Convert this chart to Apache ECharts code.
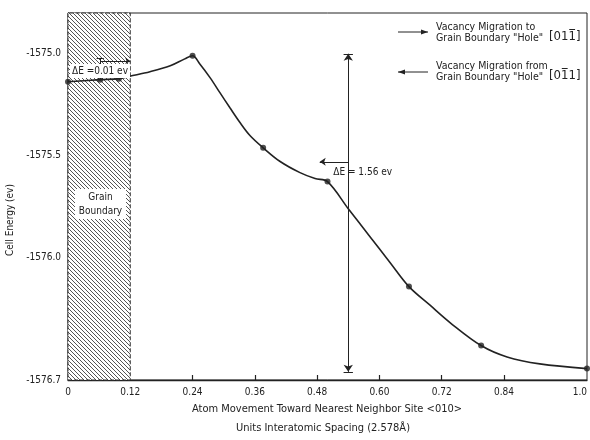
<!DOCTYPE html>
<html>
<head>
<meta charset="utf-8">
<script src="https://cdn.jsdelivr.net/npm/echarts@6/dist/echarts.min.js"></script>
<style>
  html, body { margin: 0; padding: 0; background: #fff; }
  #chart { width: 590px; height: 440px; }
</style>
</head>
<body>
<div id="chart"></div>
<script>
// Axis ticks and their printed labels
const xTickValues = [0, 0.12, 0.24, 0.36, 0.48, 0.60, 0.72, 0.84, 1.0];
const xTickLabels = ['0', '0.12', '0.24', '0.36', '0.48', '0.60', '0.72', '0.84', '1.0'];
const xTickMarks = [0.24, 0.36, 0.48, 0.60, 0.72, 0.84];
const yTickValues = [-1576.6, -1576.0, -1575.5, -1575.0];
const yTickLabels = ['-1576.7', '-1576.0', '-1575.5', '-1575.0'];

// Cell energy along the migration path (curve)
const curveX = [0, 0.062, 0.098, 0.119, 0.158, 0.197, 0.225, 0.24, 0.254, 0.274, 0.293, 0.312, 0.331, 0.351, 0.376,
                0.408, 0.447, 0.476, 0.50, 0.54, 0.58, 0.62, 0.657, 0.697, 0.736, 0.796, 0.846, 0.909, 1.0];
const curveY = [-1575.137, -1575.127, -1575.122, -1575.110, -1575.088, -1575.059, -1575.025, -1575.010, -1575.050,
                -1575.118, -1575.192, -1575.265, -1575.336, -1575.402, -1575.461, -1575.527, -1575.583, -1575.612,
                -1575.627, -1575.760, -1575.891, -1576.022, -1576.142, -1576.232, -1576.318, -1576.431, -1576.487,
                -1576.521, -1576.544];

// Computed configurations (dots)
const markerX = [0, 0.062, 0.098, 0.24, 0.376, 0.50, 0.657, 0.796, 1.0];
const markerY = [-1575.137, -1575.127, -1575.122, -1575.010, -1575.461, -1575.627, -1576.142, -1576.431, -1576.544];

// Grain boundary band and energy barrier
const boundaryX = [0, 0.12];
const barrierX = 0.54;
const barrierTop = -1575.0;
const barrierBottom = -1576.56;

const FONT = "'Liberation Sans Narrow', 'DejaVu Sans Condensed', 'Roboto Condensed', sans-serif";
const INK = '#222';
const Y_MIN = -1576.6, Y_MAX = -1574.8;

// Diagonal hatch pattern for the grain boundary
const hatch = document.createElement('canvas');
hatch.width = 4; hatch.height = 4;
(function () {
  const c = hatch.getContext('2d');
  c.fillStyle = '#fff';
  c.fillRect(0, 0, 4, 4);
  c.strokeStyle = '#555';
  c.lineWidth = 1;
  c.beginPath();
  c.moveTo(-1, -1); c.lineTo(5, 5);
  c.moveTo(-1, 3); c.lineTo(1, 5);
  c.moveTo(3, -1); c.lineTo(5, 1);
  c.stroke();
})();

function pairs(xs, ys) { return xs.map((x, i) => [x, ys[i]]); }
function lookup(vals, labels, v) {
  let best = 0;
  vals.forEach((t, i) => { if (Math.abs(t - v) < Math.abs(vals[best] - v)) best = i; });
  return labels[best];
}

const chart = echarts.init(document.getElementById('chart'), null, { renderer: 'canvas' });

const plain = { color: INK, width: 1, type: 'solid' };

chart.setOption({
  animation: false,
  backgroundColor: '#fff',
  grid: {
    left: 68, right: 3, top: 13, bottom: 60, outerBoundsMode: 'none', containLabel: false,
    show: true, borderColor: INK, borderWidth: 1, backgroundColor: 'transparent'
  },
  xAxis: {
    type: 'value', min: 0, max: 1.0,
    axisLine: { show: true, lineStyle: { color: INK, width: 1.3 } },
    axisTick: { show: true, inside: true, length: 5, customValues: xTickMarks, lineStyle: { color: INK, width: 1.2 } },
    axisLabel: {
      customValues: xTickValues, margin: 7, color: INK, fontFamily: FONT, fontSize: 10,
      alignMaxLabel: 'right',
      formatter: v => lookup(xTickValues, xTickLabels, v)
    },
    splitLine: { show: false }
  },
  yAxis: {
    type: 'value', min: Y_MIN, max: Y_MAX,
    axisLine: { show: true, lineStyle: { color: INK, width: 1.3 } },
    axisTick: { show: true, inside: true, length: 6, customValues: yTickValues.slice(1), lineStyle: { color: INK, width: 1 } },
    axisLabel: {
      customValues: yTickValues, margin: 7, color: INK, fontFamily: FONT, fontSize: 10,
      formatter: v => lookup(yTickValues, yTickLabels, v)
    },
    splitLine: { show: false }
  },
  series: [
    {
      type: 'line',
      data: pairs(curveX, curveY),
      smooth: 0.35,
      showSymbol: false,
      symbol: 'none',
      lineStyle: { color: INK, width: 1.6 },
      silent: true,
      z: 5,
      markArea: {
        silent: true,
        itemStyle: { color: { image: hatch, repeat: 'repeat' }, borderColor: '#333', borderWidth: 1, borderType: 'dashed' },
        data: [[{ coord: [boundaryX[0], Y_MIN] }, { coord: [boundaryX[1], Y_MAX] }]]
      },
      markLine: {
        silent: true,
        animation: false,
        symbolSize: 7,
        label: { show: false },
        lineStyle: plain,
        emphasis: { disabled: true },
        data: [
          // energy barrier, with end bars
          [{ coord: [barrierX, barrierTop], symbol: 'arrow' }, { coord: [barrierX, barrierBottom], symbol: 'arrow' }],
          [{ coord: [barrierX - 0.009, barrierTop], symbol: 'none' }, { coord: [barrierX + 0.009, barrierTop], symbol: 'none' }],
          [{ coord: [barrierX - 0.009, barrierBottom], symbol: 'none' }, { coord: [barrierX + 0.009, barrierBottom], symbol: 'none' }],
          // pointer next to the barrier label
          [{ coord: [barrierX, -1575.53], symbol: 'none' }, { coord: [0.485, -1575.53], symbol: 'arrow', symbolSize: 6 }],
          // small step inside the grain boundary
          [{ coord: [0.062, -1575.02], symbol: 'none' }, { coord: [0.062, -1575.127], symbol: 'none' }],
          [{ coord: [0.055, -1575.02], symbol: 'none' }, { coord: [0.069, -1575.02], symbol: 'none' }],
          [{ coord: [0.062, -1575.035], symbol: 'none' }, { coord: [0.12, -1575.035], symbol: 'arrow', symbolSize: 5 }]
        ]
      }
    },
    {
      type: 'scatter',
      data: pairs(markerX, markerY),
      symbol: 'circle',
      symbolSize: 6,
      itemStyle: { color: INK },
      silent: true,
      z: 6
    }
  ]
});

// Text annotations and direction key
function arrow(x1, x2, y, headAtEnd) {
  const hx = headAtEnd ? x2 : x1;
  const d = headAtEnd ? -1 : 1;
  return [
    { type: 'line', z: 100, shape: { x1, y1: y, x2, y2: y }, style: { stroke: INK, lineWidth: 1 } },
    { type: 'polygon', z: 100, shape: { points: [[hx, y], [hx + d * 7, y - 2.5], [hx + d * 7, y + 2.5]] }, style: { fill: INK } }
  ];
}
const txt = (x, y, text, extra) => ({
  type: 'text', x, y, z: 101,
  style: Object.assign({ text, fill: INK, font: '10.5px ' + FONT, textVerticalAlign: 'middle' }, extra || {})
});

// Miller index in brackets with an overbar above one digit
const INDEX_FONT = '13px ' + FONT;
const measure = document.createElement('canvas').getContext('2d');
measure.font = INDEX_FONT;
function millerIndex(x, y, digits, barAt) {
  const text = '[' + digits + ']';
  const left = x + measure.measureText('[' + digits.slice(0, barAt)).width;
  const right = x + measure.measureText('[' + digits.slice(0, barAt + 1)).width;
  return [
    txt(x, y, text, { font: INDEX_FONT }),
    { type: 'line', z: 101, shape: { x1: left + 0.8, y1: y - 7.5, x2: right - 0.8, y2: y - 7.5 }, style: { stroke: INK, lineWidth: 1 } }
  ];
}

const pB = chart.convertToPixel({ gridIndex: 0 }, [barrierX, -1575.55]);

chart.setOption({
  graphic: [
    // grain boundary label box
    { type: 'rect', z: 100, shape: { x: 75, y: 189, width: 51, height: 30 }, style: { fill: '#fff' } },
    txt(100.5, 197, 'Grain', { textAlign: 'center', font: '10px ' + FONT }),
    txt(100.5, 211, 'Boundary', { textAlign: 'center', font: '10px ' + FONT }),
    // small barrier label
    { type: 'rect', z: 100, shape: { x: 70, y: 64, width: 60, height: 14 }, style: { fill: '#fff' } },
    txt(72, 71, '\u0394E =0.01 ev', { font: '10px ' + FONT }),
    // main barrier label
    txt(pB[0] - 15, 172, '\u0394E = 1.56 ev', { font: '10px ' + FONT }),
    // direction key
    ...arrow(398, 428, 32, true),
    txt(436, 27, 'Vacancy Migration to'),
    txt(436, 38, 'Grain Boundary "Hole"'),
    ...millerIndex(549, 37, '011', 2),
    ...arrow(398, 428, 72, false),
    txt(436, 66, 'Vacancy Migration from'),
    txt(436, 77, 'Grain Boundary "Hole"'),
    ...millerIndex(549, 76, '011', 1),
    // axis titles
    txt(327, 409, 'Atom Movement Toward Nearest Neighbor Site <010>', { textAlign: 'center', font: '11px ' + FONT }),
    txt(323, 428, 'Units Interatomic Spacing (2.578\u00C5)', { textAlign: 'center', font: '11px ' + FONT }),
    { type: 'text', x: 10, y: 220, rotation: Math.PI / 2, z: 101,
      style: { text: 'Cell Energy (ev)', fill: INK, font: '10px ' + FONT, textAlign: 'center', textVerticalAlign: 'middle' } }
  ]
});
</script>
</body>
</html>
